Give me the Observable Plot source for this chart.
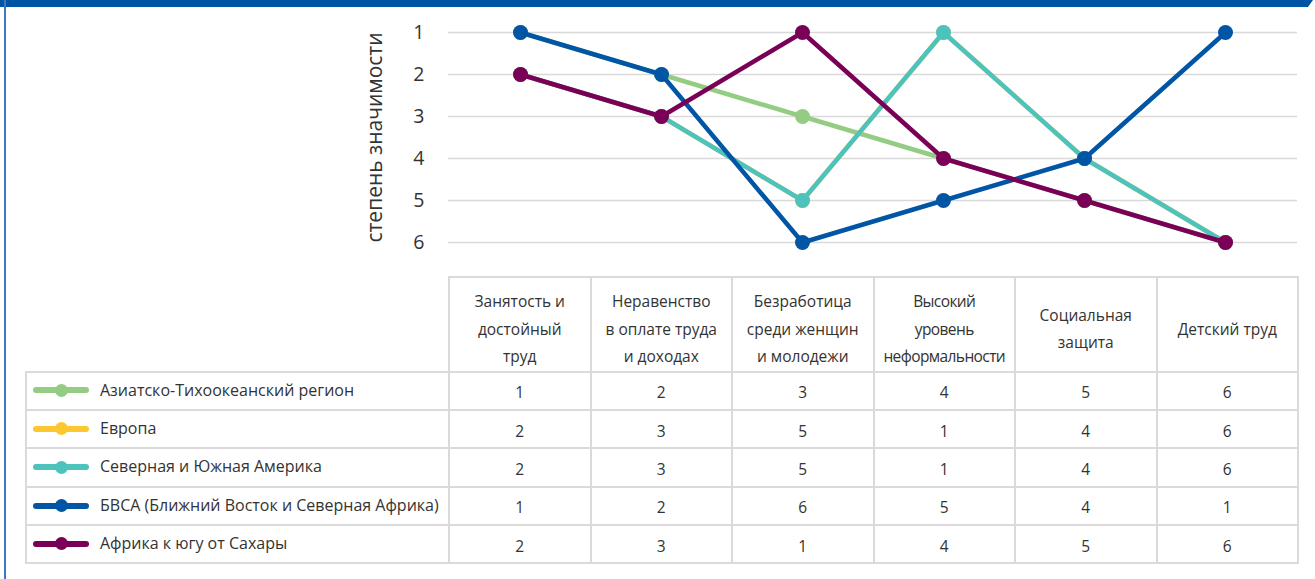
<!DOCTYPE html>
<html><head><meta charset="utf-8">
<script src="https://cdn.jsdelivr.net/npm/d3@7"></script>
<script src="https://cdn.jsdelivr.net/npm/@observablehq/plot@0.6"></script>
<style>
html,body{margin:0;padding:0}
body{width:1315px;height:579px;position:relative;overflow:hidden;background:#fff;font-family:"Open Sans",sans-serif;color:#333}
#topbar{position:absolute;left:0;top:0;width:1315px;height:7px;background:#0054a6;clip-path:polygon(0 0,1313px 0,1308px 100%,0 100%)}
#leftbar{position:absolute;left:4px;top:0;width:2px;height:579px;background:#3f78bf}
#chart{position:absolute;left:0;top:0}
#tbl{position:absolute;left:25px;top:276px;border-collapse:collapse;table-layout:fixed;width:1272px}
#tbl td,#tbl th{border:2px solid #dadada;padding:0;text-align:center;font-weight:normal}
#tbl th{height:93px;font-size:15.5px;line-height:27.5px;white-space:pre-line;vertical-align:middle;padding-top:10px;box-sizing:border-box}
#tbl td.blank{border-top:none;border-left:none}
#tbl tr.row td{height:33.4px;font-size:15.5px;padding-top:3px}
#tbl tr.row td.lg{text-align:left;padding-top:0;padding-bottom:2px;font-size:16px}
.sw{display:inline-block;position:relative;width:56px;height:13px;vertical-align:middle;margin:0 11px 0 6px;top:-1px}
.sw .ln{position:absolute;left:0;top:3.5px;width:56px;height:6px;border-radius:3px}
.sw .dt{position:absolute;left:21.5px;top:0;width:13px;height:13px;border-radius:6.5px}
</style></head>
<body>
<div id="topbar"></div><div id="leftbar"></div>
<div id="chart"></div>
<table id="tbl"></table>
<script>
const categories = ["Занятость и\nдостойный\nтруд","Неравенство\nв оплате труда\nи доходах","Безработица\nсреди женщин\nи молодежи","Высокий\nуровень\nнеформальности","Социальная\nзащита","Детский труд"];
const regions = ["Азиатско-Тихоокеанский регион","Европа","Северная и Южная Америка","БВСА (Ближний Восток и Северная Африка)","Африка к югу от Сахары"];
const colors = ["#95cc84","#fdc82f","#4ec3be","#0055a5","#7a0057"];
const asiaPacific = [1,2,3,4,5,6];
const europe = [2,3,5,1,4,6];
const americas = [2,3,5,1,4,6];
const mena = [1,2,6,5,4,1];
const ssa = [2,3,1,4,5,6];
const yTicks = [1,2,3,4,5,6];
const yLabel = "степень значимости";

const series = [asiaPacific, europe, americas, mena, ssa];
const rows = regions.flatMap((r,i)=>categories.map((c,j)=>({region:r,cat:c,rank:series[i][j]})));

const seriesMarks = regions.flatMap(r => {
  const d = rows.filter(o => o.region === r);
  return [
    Plot.line(d,{x:"cat",y:"rank",stroke:"region",strokeWidth:4.5}),
    Plot.dot(d,{x:"cat",y:"rank",fill:"region",r:7.5})
  ];
});

const plot = Plot.plot({
  width:1315,height:265,
  marginLeft:448,marginRight:18,marginTop:32,marginBottom:23,
  style:{fontFamily:"Open Sans",color:"#333",background:"transparent"},
  x:{type:"point",domain:categories,padding:0.5,axis:null},
  y:{domain:[1,6],reverse:true},
  color:{domain:regions,range:colors},
  marks:[
    Plot.ruleY(yTicks,{stroke:"#d9d9d9",strokeWidth:1.5}),
    Plot.axisY({ticks:yTicks,tickSize:0,tickPadding:24,fontSize:19.5,label:null,tickFormat:d=>String(d)}),
    Plot.text([yLabel],{frameAnchor:"left",textAnchor:"middle",rotate:-90,dx:-73,fontSize:21,fill:"#333"}),
    ...seriesMarks
  ]
});
document.getElementById("chart").appendChild(plot);

const tbl = document.getElementById("tbl");
let html = `<colgroup><col style="width:423px">${categories.map(()=>'<col style="width:141.5px">').join("")}</colgroup>`;
html += `<tr><td class="blank"></td>${categories.map((c,j)=>`<th${j===3?' style="letter-spacing:-0.6px"':''}>${c}</th>`).join("")}</tr>`;
regions.forEach((r,i)=>{
  html += `<tr class="row"><td class="lg"><span class="sw"><span class="ln" style="background:${colors[i]}"></span><span class="dt" style="background:${colors[i]}"></span></span>${r}</td>${series[i].map(v=>`<td>${v}</td>`).join("")}</tr>`;
});
tbl.innerHTML = html;
</script>
</body></html>
